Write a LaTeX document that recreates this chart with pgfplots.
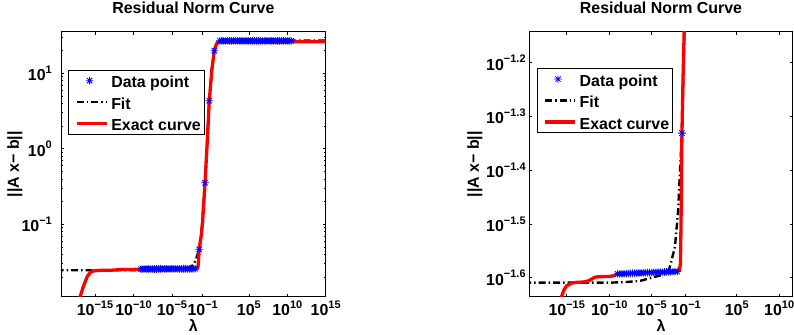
\documentclass[border=0pt]{standalone}
\usepackage{pgfplots}
\usepackage{pgfplotstable}
\pgfplotsset{compat=1.18}
\usepackage{fontspec}
\setmainfont{Liberation Sans}

% power-of-ten tick label: "10" with a raised exponent
\newcommand{\tl}[1]{10\raisebox{7.3bp}{\fontsize{11}{11}\selectfont #1}}
\newcommand{\bigbold}{\fontsize{16}{19}\selectfont\bfseries}

% eight-armed asterisk marker
\pgfdeclareplotmark{star8}{%
  \pgfpathmoveto{\pgfqpoint{-\pgfplotmarksize}{0pt}}%
  \pgfpathlineto{\pgfqpoint{\pgfplotmarksize}{0pt}}%
  \pgfpathmoveto{\pgfqpoint{0pt}{-\pgfplotmarksize}}%
  \pgfpathlineto{\pgfqpoint{0pt}{\pgfplotmarksize}}%
  \pgfpathmoveto{\pgfqpoint{-.7071\pgfplotmarksize}{-.7071\pgfplotmarksize}}%
  \pgfpathlineto{\pgfqpoint{.7071\pgfplotmarksize}{.7071\pgfplotmarksize}}%
  \pgfpathmoveto{\pgfqpoint{-.7071\pgfplotmarksize}{.7071\pgfplotmarksize}}%
  \pgfpathlineto{\pgfqpoint{.7071\pgfplotmarksize}{-.7071\pgfplotmarksize}}%
  \pgfusepathqstroke}

% sampled residual norms
\pgfplotstableread{
lambda     res
1e-9       0.02553
1.778e-9   0.02554
3.162e-9   0.02555
5.623e-9   0.02556
1e-8       0.02557
1.778e-8   0.02558
3.162e-8   0.02559
5.623e-8   0.02560
1e-7       0.02561
1.778e-7   0.02562
3.162e-7   0.02563
5.623e-7   0.02564
1e-6       0.02565
1.778e-6   0.02566
3.162e-6   0.02567
5.623e-6   0.02568
1e-5       0.02568
1.778e-5   0.02569
3.162e-5   0.02570
5.623e-5   0.02571
1e-4       0.02572
1.778e-4   0.02573
3.162e-4   0.02574
5.623e-4   0.02575
1e-3       0.02576
1.778e-3   0.02577
3.162e-3   0.02578
5.623e-3   0.02579
1e-2       0.02580
3.631e-2   0.04667
0.2042     0.3548
0.7244     4.335
3.311      19.95
17.78      26.9
31.62      26.9
56.23      26.9
100        26.9
177.8      26.9
316.2      26.9
562.3      26.9
1e3        26.9
1.778e3    26.9
3.162e3    26.9
5.623e3    26.9
1e4        26.9
1.778e4    26.9
3.162e4    26.9
5.623e4    26.9
1e5        26.9
1.778e5    26.9
3.162e5    26.9
5.623e5    26.9
1e6        26.9
1.778e6    26.9
3.162e6    26.9
5.623e6    26.9
1e7        26.9
1.778e7    26.9
3.162e7    26.9
5.623e7    26.9
1e8        26.9
1.778e8    26.9
3.162e8    26.9
5.623e8    26.9
1e9        26.9
1.778e9    26.9
3.162e9    26.9
5.623e9    26.9
1e10       26.9
1.778e10   26.9
3.162e10   26.9
}\datapoints

% fitted model
\pgfplotstableread{
lambda     res
1e-20      0.02459
1e-10      0.02459
1e-8       0.02466
3.981e-7   0.02477
1.413e-5   0.02516
1.585e-4   0.02541
6.31e-4    0.02570
1.259e-3   0.02618
2.239e-3   0.02710
5.495e-3   0.02871
1.318e-2   0.03357
2.138e-2   0.03981
3.631e-2   0.04667
6.918e-2   0.07244
0.2042     0.3548
0.7244     4.365
1.585      11.22
3.311      20.89
7.943      25.70
31.62      27.04
1e16       27.04
}\fitcurve

% exact residual curve
\pgfplotstableread{
lambda     res
6.31e-18   0.00891
1.259e-17  0.01122
3.162e-17  0.01514
1e-16      0.02042
2.512e-16  0.02317
5.012e-16  0.02388
1e-15      0.02427
3.981e-15  0.02455
1.585e-14  0.02463
1e-13      0.02466
3.162e-13  0.02477
6.31e-13   0.02489
1.585e-12  0.02512
3.981e-12  0.02521
1e-11      0.02523
1e-10      0.02526
3.162e-10  0.02532
6.31e-10   0.02547
1e-9       0.02553
1e-7       0.02562
1e-5       0.02568
1e-3       0.02574
1e-2       0.02580
1.778e-2   0.02594
2.399e-2   0.02661
2.818e-2   0.03162
3.236e-2   0.03981
3.631e-2   0.04667
5.012e-2   0.06026
6.918e-2   0.07413
0.1        0.1122
0.2042     0.3548
0.3981     1.259
0.7244     4.335
1.585      11.22
3.311      19.95
6.31       24.55
15.85      26.00
39.81      26.24
1e16       26.24
}\exactcurve

\pgfplotsset{
  resid/.style={
    scale only axis,
    height=265bp,
    axis line style={line width=0.8bp},
    every tick/.style={black, line width=0.6bp},
    major tick length=3bp,
    minor tick length=1.8bp,
    tick align=inside,
    xminorticks=false,
    every tick label/.append style={font=\bigbold},
    xtick={1e-15,1e-10,1e-5,1e-1,1e5,1e10,1e15},
    xticklabels={\tl{−15},\tl{−10},\tl{−5},\tl{−1},\tl{5},\tl{10},\tl{15}},
    xticklabel style={anchor=base, inner sep=0pt, yshift=-19bp},
    title={Residual Norm Curve},
    title style={font=\bigbold, at={(0.5,1)}, anchor=base, inner sep=0pt, yshift=12.7bp},
    xlabel={λ},
    xlabel style={font=\bigbold, at={(0.5,0)}, anchor=north, inner sep=0pt, yshift=-22.8bp},
    ylabel={||A x− b||},
    ylabel style={font=\bigbold},
    legend cell align=left,
    legend style={anchor=north west, draw=black, line width=0.8bp,
      inner xsep=3.5bp, inner ysep=3.4bp, row sep=7.5bp,
      font=\bigbold,
      nodes={inner sep=0pt, text height=14bp, text depth=0bp},
      /tikz/every odd column/.append style={column sep=3bp}},
  },
  datastyle/.style={only marks, blue, mark=star8, mark size=3.8bp,
    mark options={line width=0.8bp},
    legend image code/.code={\path (0bp,0bp) (34bp,0bp);
      \draw[##1] plot coordinates {(17bp,0bp)};}},
  fitstyle/.style={black, line width=2.4bp,
    dash pattern=on 7bp off 3bp on 1.5bp off 3bp,
    legend image code/.code={\draw[##1] (4bp,0bp) -- (34bp,0bp);}},
  exactstyle/.style={red, line width=3.3bp,
    legend image code/.code={\draw[##1] (4bp,0bp) -- (34bp,0bp);}},
}

\begin{document}
\begin{tikzpicture}
% full view
\begin{axis}[xmode=log, ymode=log, resid,
  at={(61bp,38.3bp)}, anchor=south west,
  width=264.7bp,
  xmin=3.8e-20, xmax=1e15,
  ymin=0.01099, ymax=35.56,
  ytick={0.1,1,10},
  yticklabels={\tl{−1},\tl{0},\tl{1}},
  minor ytick={0.02,0.03,0.04,0.05,0.06,0.07,0.08,0.09,
    0.2,0.3,0.4,0.5,0.6,0.7,0.8,0.9,2,3,4,5,6,7,8,9,20,30},
  yticklabel style={anchor=east, inner sep=0pt, xshift=-9bp},
  ylabel style={at={(axis description cs:-0.1738,0.5)}, anchor=center},
  legend style={at={(axis description cs:0.0276,0.856)}},
]
\addplot[datastyle] table[x=lambda, y=res] {\datapoints};
\addlegendentry{Data point}
\addplot[fitstyle] table[x=lambda, y=res] {\fitcurve};
\addlegendentry{Fit}
\addplot[exactstyle] table[x=lambda, y=res] {\exactcurve};
\addlegendentry{Exact curve}
\end{axis}

% zoom on the lower plateau
\begin{axis}[xmode=log, ymode=log, resid,
  at={(529.3bp,38.3bp)}, anchor=south west,
  width=263.4bp,
  xmin=3.98e-20, xmax=3.89e11,
  ymin=0.023156, ymax=0.07207,
  yminorticks=false,
  ytick={0.0251189,0.0316228,0.0398107,0.0501187,0.0630957},
  yticklabels={\tl{−1.6},\tl{−1.5},\tl{−1.4},\tl{−1.3},\tl{−1.2}},
  yticklabel style={anchor=east, inner sep=0pt, xshift=-3.5bp},
  ylabel style={at={(axis description cs:-0.2062,0.5)}, anchor=center},
  legend style={at={(axis description cs:0.0281,0.862)}},
]
\addplot[datastyle] table[x=lambda, y=res] {\datapoints};
\addlegendentry{Data point}
\addplot[fitstyle] table[x=lambda, y=res] {\fitcurve};
\addlegendentry{Fit}
\addplot[exactstyle] table[x=lambda, y=res] {\exactcurve};
\addlegendentry{Exact curve}
\end{axis}

\pgfresetboundingbox
\path[use as bounding box] (0,0) rectangle (794bp,335bp);
\end{tikzpicture}
\end{document}
